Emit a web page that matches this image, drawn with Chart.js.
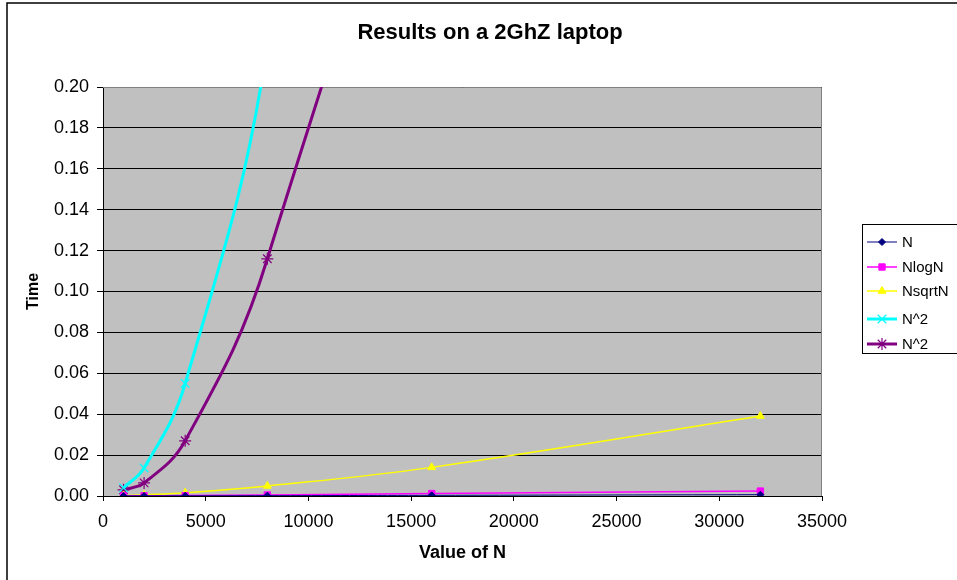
<!DOCTYPE html>
<html>
<head>
<meta charset="utf-8">
<title>Results on a 2GhZ laptop</title>
<script src="https://cdn.jsdelivr.net/npm/chart.js@4.4.1/dist/chart.umd.min.js"></script>
<style>
  html, body { margin: 0; padding: 0; background: #fff; }
  #wrap { position: relative; width: 957px; height: 580px; }
</style>
</head>
<body>
<div id="wrap"><canvas id="chart"></canvas></div>
<script>
// values
const sizes = [1000, 2000, 4000, 8000, 16000, 32000];
const timeN = [0.00002, 0.00004, 0.00008, 0.00016, 0.00032, 0.00064];
const timeNlogN = [0.00005, 0.0001, 0.0002, 0.0005, 0.0012, 0.0024];
const timeNsqrtN = [0.0002, 0.0006, 0.0016, 0.0049, 0.014, 0.0391];
const timeN2a = [0.004, 0.0137, 0.055, 0.22, 0.85, 3.4];
const timeN2b = [0.003, 0.0064, 0.027, 0.116, 0.42, 1.7];
const seriesNames = ['N', 'NlogN', 'NsqrtN', 'N^2', 'N^2'];
const xTicks = [0, 5000, 10000, 15000, 20000, 25000, 30000, 35000];
const yTicks = [0, 0.02, 0.04, 0.06, 0.08, 0.10, 0.12, 0.14, 0.16, 0.18, 0.20];
const chartTitle = 'Results on a 2GhZ laptop';

function pairs(vals) {
  return sizes.map((n, i) => ({ x: n, y: vals[i] }));
}

Chart.defaults.font.family = '"Liberation Sans", Arial, sans-serif';
Chart.defaults.color = '#000';

const plotBack = {
  id: 'plotBack',
  beforeDraw(chart) {
    const { ctx, chartArea: a } = chart;
    ctx.save();
    ctx.fillStyle = '#C0C0C0';
    ctx.fillRect(a.left, a.top, a.right - a.left, a.bottom - a.top);
    ctx.restore();
  },
  beforeDatasetsDraw(chart) {
    const { ctx, chartArea: a } = chart;
    ctx.save();
    ctx.strokeStyle = '#808080';
    ctx.lineWidth = 1;
    ctx.beginPath();
    ctx.moveTo(a.left, a.top + 0.5);
    ctx.lineTo(a.right - 0.5, a.top + 0.5);
    ctx.lineTo(a.right - 0.5, a.bottom);
    ctx.stroke();
    ctx.restore();
  },
  afterDraw(chart) {
    const ctx = chart.ctx;
    ctx.save();
    // outer chart frame (cut off at right and bottom)
    ctx.strokeStyle = '#000';
    ctx.lineWidth = 1.5;
    ctx.beginPath();
    ctx.moveTo(7, 580);
    ctx.lineTo(7, 3);
    ctx.lineTo(957, 3);
    ctx.stroke();

    // title, centred on the whole chart
    ctx.fillStyle = '#000';
    ctx.font = 'bold 22px "Liberation Sans", Arial, sans-serif';
    ctx.textAlign = 'center';
    ctx.textBaseline = 'middle';
    ctx.fillText(chartTitle, 490, 33);

    // legend box
    ctx.lineWidth = 1;
    ctx.strokeRect(862.5, 224.5, 120, 129);
    const rows = [242, 267, 291, 319, 344];
    ctx.font = '15px "Liberation Sans", Arial, sans-serif';
    ctx.textAlign = 'left';
    chart.data.datasets.forEach((ds, i) => {
      const y = rows[i];
      ctx.strokeStyle = ds.borderColor;
      ctx.lineWidth = ds.borderWidth;
      ctx.beginPath();
      ctx.moveTo(867, y);
      ctx.lineTo(897, y);
      ctx.stroke();
      ctx.fillStyle = ds.pointBackgroundColor;
      ctx.strokeStyle = ds.pointBorderColor;
      ctx.lineWidth = ds.pointBorderWidth;
      Chart.helpers.drawPoint(ctx, {
        pointStyle: ds.pointStyle,
        radius: ds.pointRadius,
        rotation: 0,
        borderWidth: ds.pointBorderWidth
      }, 882, y);
      ctx.fillStyle = '#000';
      ctx.fillText(ds.label, 902, y + 1);
    });
    ctx.restore();
  }
};

const colors = ['#000080', '#FF00FF', '#FFFF00', '#00FFFF', '#800080'];
const styles = ['rectRot', 'rect', 'triangle', 'crossRot', 'star'];
const widths = [1, 1.5, 1.5, 3, 3];
const radii = [3.5, 4.5, 4.5, 6, 6];
const series = [timeN, timeNlogN, timeNsqrtN, timeN2a, timeN2b];

const datasets = series.map((vals, i) => ({
  label: seriesNames[i],
  data: pairs(vals),
  borderColor: colors[i],
  backgroundColor: colors[i],
  borderWidth: widths[i],
  pointStyle: styles[i],
  pointRadius: radii[i],
  pointBackgroundColor: colors[i],
  pointBorderColor: colors[i],
  pointBorderWidth: i >= 3 ? 1.2 : 1,
  tension: 0.4,
  fill: false
}));

new Chart(document.getElementById('chart'), {
  type: 'line',
  data: { datasets: datasets },
  options: {
    responsive: true,
    maintainAspectRatio: false,
    animation: false,
    layout: { padding: { left: 7, right: 135, top: 87, bottom: 0 } },
    elements: { line: { capBezierPoints: false } },
    plugins: {
      legend: { display: false },
      tooltip: { enabled: false },
      title: { display: false }
    },
    scales: {
      x: {
        type: 'linear',
        min: 0,
        max: 35000,
        afterBuildTicks(scale) { scale.ticks = xTicks.map(v => ({ value: v })); },
        afterFit(scale) { scale.height = 84; },
        ticks: {
          font: { size: 18 },
          padding: 10,
          maxRotation: 0,
          callback: v => String(v)
        },
        grid: { drawOnChartArea: false, color: '#000', tickLength: 5 },
        border: { color: '#000', width: 1 },
        title: {
          display: true,
          text: 'Value of N',
          font: { size: 18, weight: 'bold' },
          padding: { top: 0, bottom: 16 }
        }
      },
      y: {
        min: 0,
        max: 0.2,
        afterBuildTicks(scale) { scale.ticks = yTicks.map(v => ({ value: v })); },
        afterFit(scale) { scale.width = 96; },
        ticks: {
          font: { size: 18 },
          padding: 8,
          callback: v => v.toFixed(2)
        },
        grid: { color: '#000', lineWidth: 1, tickLength: 6 },
        border: { color: '#000', width: 1 },
        title: {
          display: true,
          text: 'Time',
          font: { size: 16, weight: 'bold' },
          padding: { top: 17, bottom: 0 }
        }
      }
    }
  },
  plugins: [plotBack]
});
</script>
</body>
</html>
